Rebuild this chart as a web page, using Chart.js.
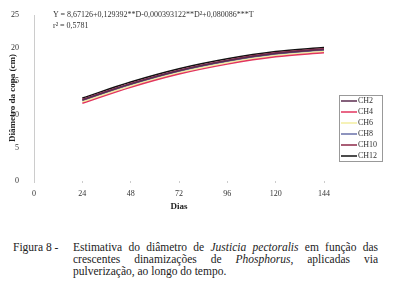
<!DOCTYPE html>
<html>
<head>
<meta charset="utf-8">
<script src="https://cdn.jsdelivr.net/npm/chart.js@4.4.0/dist/chart.umd.min.js"></script>
<style>
  body { margin: 0; background: #fff; width: 400px; height: 294px; overflow: hidden; position: relative; font-family: "Liberation Serif", "Times New Roman", serif; color: #222; }
  #wrap { position: absolute; left: 0; top: 0; width: 400px; height: 225px; }
  .eq { position: absolute; left: 53px; font-size: 8px; white-space: nowrap; color: #333; }
  #figLabel { position: absolute; left: 13px; top: 241px; font-size: 11.5px; line-height: 12px; }
  .cap { position: absolute; left: 73px; width: 305px; font-size: 11.5px; line-height: 12px; white-space: nowrap; }
  .just { text-align: justify; text-align-last: justify; white-space: normal; }
</style>
</head>
<body>
<div id="wrap"><canvas id="grafica"></canvas></div>
<div class="eq" style="top:10px">Y = 8,67126+0,129392**D-0,000393122**D²+0,080086***T</div>
<div class="eq" style="top:21px">r² = 0,5781</div>
<div id="figLabel">Figura 8 -</div>
<div class="cap just" style="top:241px">Estimativa do diâmetro de <i>Justicia pectoralis</i> em função das</div>
<div class="cap just" style="top:253px">crescentes dinamizações de <i>Phosphorus</i>, aplicadas via</div>
<div class="cap" style="top:265px">pulverização, ao longo do tempo.</div>

<script>
var dias = [24, 48, 72, 96, 120, 144];
var ticksX = [0, 24, 48, 72, 96, 120, 144];

var ch2  = [12.2, 14.6, 16.6, 18.1, 19.2, 19.8];
var ch4  = [11.7, 14.1, 16.1, 17.6, 18.7, 19.3];
var ch6  = [11.9, 14.3, 16.3, 17.8, 18.9, 19.5];
var ch8  = [12.1, 14.5, 16.5, 18.0, 19.1, 19.7];
var ch10 = [12.3, 14.7, 16.7, 18.2, 19.3, 19.9];
var ch12 = [12.5, 14.9, 16.9, 18.4, 19.5, 20.1];

var nombres = ['CH2', 'CH4', 'CH6', 'CH8', 'CH10', 'CH12'];
var colores = ['#5b2c4f', '#e2355e', '#f3eea0', '#6870a8', '#8c2848', '#111111'];
var series = [ch2, ch4, ch6, ch8, ch10, ch12];
var fuente = '"Liberation Serif", "Times New Roman", serif';

function puntos(valores)
{
    return valores.map(function(v, i) { return { x: dias[i], y: v }; });
}

// leyenda dentro del recuadro, como en la figura
var leyendaCaja = {
    id: 'leyendaCaja',
    afterDraw: function(chart)
    {
        var ctx = chart.ctx;
        var x = 339, y = 95, w = 43, h = 66;
        ctx.save();
        ctx.fillStyle = '#fff';
        ctx.fillRect(x, y, w, h);
        ctx.strokeStyle = '#999';
        ctx.lineWidth = 1;
        ctx.strokeRect(x + 0.5, y + 0.5, w, h);
        ctx.font = '8px ' + fuente;
        ctx.textBaseline = 'middle';
        chart.data.datasets.forEach(function(ds, i)
        {
            var ly = y + 6 + i * 11;
            ctx.strokeStyle = ds.borderColor;
            ctx.lineWidth = 1.5;
            ctx.beginPath();
            ctx.moveTo(x + 2, ly);
            ctx.lineTo(x + 18, ly);
            ctx.stroke();
            ctx.fillStyle = '#333';
            ctx.fillText(ds.label, x + 19, ly);
        });
        ctx.restore();
    }
};

var ctx = document.getElementById('grafica').getContext('2d');
var chart = new Chart(ctx, {
    type: 'line',
    data: {
        datasets: series.map(function(s, i) {
            return {
                label: nombres[i],
                data: puntos(s),
                borderColor: colores[i],
                backgroundColor: colores[i],
                borderWidth: 1.5,
                pointRadius: 0,
                cubicInterpolationMode: 'monotone',
                fill: false
            };
        })
    },
    options: {
        responsive: true,
        maintainAspectRatio: false,
        animation: false,
        layout: { padding: { top: 15, right: 76, left: 0, bottom: 0 } },
        plugins: {
            legend: { display: false },
            tooltip: { enabled: false }
        },
        scales: {
            x: {
                type: 'linear',
                min: 0,
                max: 144,
                afterBuildTicks: function(axis) {
                    axis.ticks = ticksX.map(function(v) { return { value: v }; });
                },
                afterFit: function(axis) { axis.height = 44; },
                grid: { drawOnChartArea: false, drawTicks: true, tickLength: 2, color: '#ccc' },
                border: { display: false },
                ticks: { padding: 6, color: '#333', font: { family: fuente, size: 8 } },
                title: {
                    display: true,
                    text: 'Dias',
                    color: '#222',
                    padding: { top: 0, bottom: 13 },
                    font: { family: fuente, size: 9, weight: 'bold' }
                }
            },
            y: {
                min: 0,
                max: 25,
                afterFit: function(axis) { axis.width = 34; },
                grid: { display: false },
                border: { display: true, color: '#ccc', dash: [1, 3] },
                ticks: { stepSize: 5, padding: 7, color: '#333', font: { family: fuente, size: 8 } },
                title: {
                    display: true,
                    text: 'Diâmetro da copa (cm)',
                    color: '#222',
                    padding: { top: 7, bottom: 0 },
                    font: { family: fuente, size: 9, weight: 'bold' }
                }
            }
        }
    },
    plugins: [leyendaCaja]
});
</script>
</body>
</html>
